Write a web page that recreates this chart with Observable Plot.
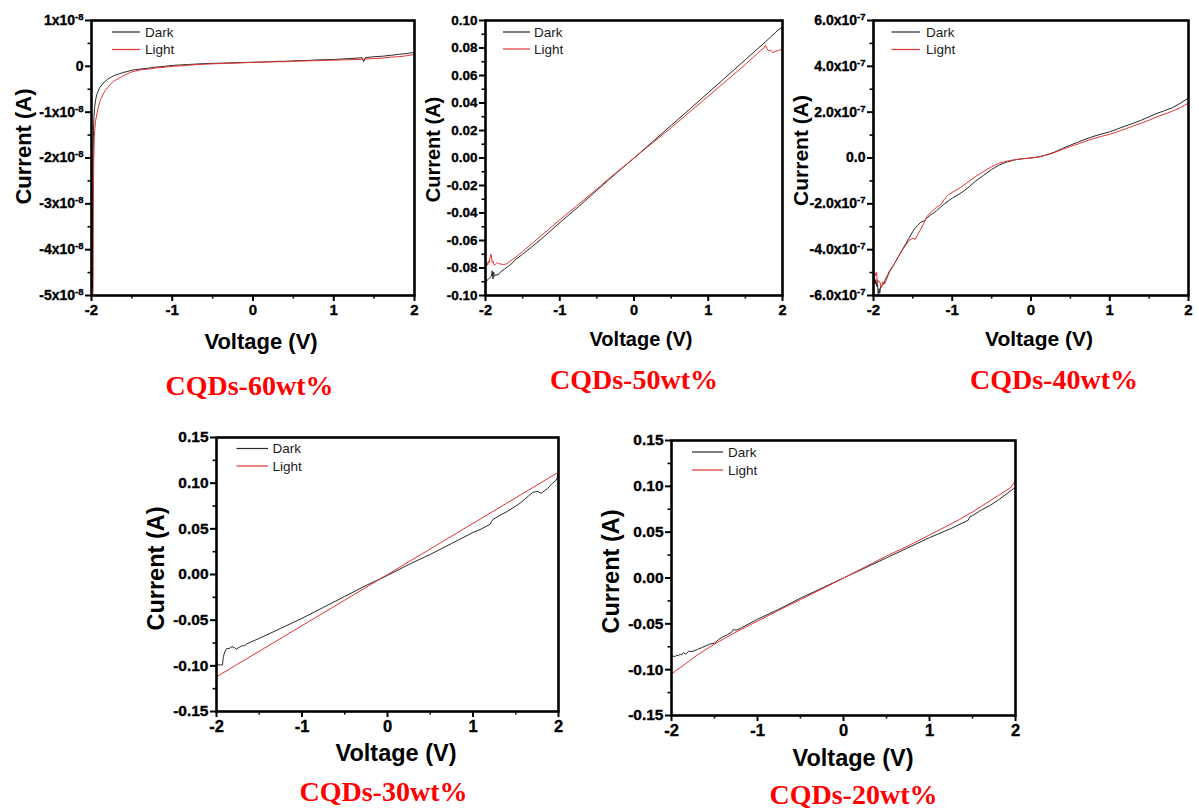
<!DOCTYPE html>
<html><head><meta charset="utf-8">
<script src="https://cdn.jsdelivr.net/npm/d3@7"></script>
<script src="https://cdn.jsdelivr.net/npm/@observablehq/plot@0.6"></script>
<style>
body{margin:0;background:#fff;}
#root{position:relative;width:1199px;height:811px;overflow:hidden;background:#fff;}
.panel{position:absolute;overflow:hidden;}
.panel svg{display:block;}
</style></head><body><div id="root"></div>
<script>
// ---------- DATA (voltage V, current) ----------
const seriesNames = ["Dark", "Light"];
const xMajorTicks = [-2, -1, 0, 1, 2];
const xMinorTicks = [-1.5, -0.5, 0.5, 1.5];

// CQDs-60wt% (current in units of 1e-8 A)
const scale60 = 1e-8;
const dark60 = [[-1.985,-4.85],[-1.983,-3.2],[-1.98,-2.0],[-1.976,-1.4],[-1.97,-1.1],[-1.962,-0.92],[-1.955,-0.8],[-1.945,-0.7],[-1.935,-0.62],[-1.92,-0.55],[-1.9,-0.47],[-1.87,-0.4],[-1.84,-0.34],[-1.8,-0.28],[-1.77,-0.25],[-1.73,-0.21],[-1.7,-0.19],[-1.65,-0.16],[-1.6,-0.13],[-1.55,-0.11],[-1.5,-0.085],[-1.45,-0.07],[-1.4,-0.06],[-1.35,-0.05],[-1.3,-0.04],[-1.25,-0.03],[-1.2,-0.015],[-1.15,-0.01],[-1.1,0.0],[-1.05,0.01],[-1.0,0.02],[-0.9,0.03],[-0.8,0.04],[-0.7,0.05],[-0.6,0.06],[-0.5,0.065],[-0.4,0.07],[-0.3,0.075],[-0.2,0.08],[-0.1,0.085],[0,0.09],[0.1,0.095],[0.2,0.1],[0.3,0.11],[0.4,0.11],[0.5,0.12],[0.6,0.125],[0.7,0.13],[0.8,0.14],[0.9,0.145],[1.0,0.15],[1.1,0.16],[1.2,0.17],[1.3,0.18],[1.35,0.19],[1.37,0.1],[1.39,0.19],[1.5,0.21],[1.6,0.22],[1.7,0.24],[1.8,0.26],[1.9,0.28],[1.95,0.29],[2.0,0.31]];
const light60 = [[-1.982,-4.95],[-1.98,-4.0],[-1.977,-3.0],[-1.974,-2.3],[-1.97,-1.85],[-1.965,-1.55],[-1.958,-1.35],[-1.95,-1.2],[-1.93,-1.0],[-1.91,-0.85],[-1.89,-0.74],[-1.86,-0.62],[-1.83,-0.53],[-1.8,-0.46],[-1.77,-0.4],[-1.73,-0.33],[-1.7,-0.3],[-1.65,-0.25],[-1.6,-0.2],[-1.55,-0.16],[-1.5,-0.12],[-1.45,-0.1],[-1.4,-0.08],[-1.35,-0.07],[-1.3,-0.06],[-1.25,-0.05],[-1.2,-0.035],[-1.15,-0.03],[-1.1,-0.02],[-1.05,-0.01],[-1.0,0.0],[-0.9,0.01],[-0.8,0.025],[-0.7,0.035],[-0.6,0.045],[-0.5,0.055],[-0.4,0.06],[-0.3,0.065],[-0.2,0.07],[-0.1,0.08],[0,0.085],[0.1,0.09],[0.2,0.095],[0.3,0.1],[0.4,0.1],[0.5,0.11],[0.6,0.115],[0.7,0.12],[0.8,0.125],[0.9,0.13],[1.0,0.135],[1.1,0.14],[1.2,0.145],[1.3,0.15],[1.4,0.16],[1.5,0.17],[1.6,0.18],[1.7,0.2],[1.8,0.21],[1.9,0.23],[2.0,0.26]];
const yTicks60 = [-5, -4, -3, -2, -1, 0, 1];
const yMinor60 = [-4.5, -3.5, -2.5, -1.5, -0.5, 0.5];

// CQDs-50wt% (A)
const dark50 = [[-2.0,-0.091],[-1.98,-0.089],[-1.96,-0.088],[-1.94,-0.087],[-1.92,-0.086],[-1.91,-0.082],[-1.9,-0.088],[-1.89,-0.083],[-1.88,-0.086],[-1.86,-0.085],[-1.83,-0.085],[-1.8,-0.083],[-1.75,-0.081],[-1.7,-0.079],[-1.65,-0.077],[-1.6,-0.074],[-1.5,-0.07],[-1.25,-0.059],[-1.0,-0.047],[-0.75,-0.0355],[-0.5,-0.0235],[-0.25,-0.0115],[0,0.0],[0.25,0.0118],[0.5,0.0237],[0.75,0.0355],[1.0,0.0475],[1.25,0.0595],[1.5,0.0715],[1.75,0.0835],[1.85,0.0885],[1.9,0.091],[1.95,0.0935],[1.98,0.0945],[2.0,0.0945]];
const light50 = [[-2.0,-0.085],[-1.99,-0.077],[-1.98,-0.076],[-1.97,-0.078],[-1.96,-0.075],[-1.95,-0.076],[-1.94,-0.073],[-1.93,-0.07],[-1.92,-0.071],[-1.91,-0.076],[-1.9,-0.075],[-1.88,-0.078],[-1.86,-0.077],[-1.84,-0.076],[-1.82,-0.077],[-1.8,-0.077],[-1.76,-0.0775],[-1.72,-0.077],[-1.68,-0.0755],[-1.64,-0.074],[-1.6,-0.0725],[-1.5,-0.068],[-1.25,-0.0565],[-1.0,-0.045],[-0.75,-0.0338],[-0.5,-0.0225],[-0.25,-0.011],[0,0.0],[0.25,0.011],[0.5,0.022],[0.75,0.0335],[1.0,0.045],[1.25,0.0565],[1.5,0.068],[1.7,0.078],[1.75,0.08],[1.77,0.082],[1.79,0.0795],[1.81,0.078],[1.84,0.0785],[1.87,0.0765],[1.9,0.0775],[1.93,0.078],[1.96,0.0785],[2.0,0.079]];
const yTicks50 = [-0.10, -0.08, -0.06, -0.04, -0.02, 0, 0.02, 0.04, 0.06, 0.08, 0.10];
const yMinor50 = [-0.09, -0.07, -0.05, -0.03, -0.01, 0.01, 0.03, 0.05, 0.07, 0.09];

// CQDs-40wt% (current in units of 1e-7 A)
const scale40 = 1e-7;
const dark40 = [[-2.0,-5.0],[-1.99,-5.3],[-1.98,-5.5],[-1.97,-5.3],[-1.96,-5.6],[-1.95,-5.4],[-1.94,-6.0],[-1.93,-5.7],[-1.92,-5.9],[-1.91,-5.6],[-1.89,-5.55],[-1.87,-5.5],[-1.85,-5.3],[-1.82,-5.1],[-1.8,-4.95],[-1.75,-4.7],[-1.7,-4.4],[-1.65,-4.1],[-1.6,-3.8],[-1.55,-3.5],[-1.5,-3.2],[-1.47,-3.05],[-1.44,-2.95],[-1.4,-2.8],[-1.36,-2.75],[-1.32,-2.62],[-1.28,-2.5],[-1.2,-2.3],[-1.1,-2.0],[-1.0,-1.75],[-0.9,-1.55],[-0.8,-1.3],[-0.7,-1.0],[-0.6,-0.75],[-0.5,-0.5],[-0.4,-0.3],[-0.3,-0.17],[-0.2,-0.08],[-0.1,-0.03],[0,0.0],[0.1,0.05],[0.2,0.14],[0.3,0.26],[0.4,0.42],[0.5,0.56],[0.6,0.7],[0.7,0.83],[0.8,0.95],[0.9,1.05],[1.0,1.14],[1.1,1.27],[1.2,1.4],[1.3,1.52],[1.4,1.65],[1.5,1.8],[1.6,1.95],[1.7,2.07],[1.8,2.2],[1.9,2.4],[2.0,2.62]];
const light40 = [[-2.0,-4.9],[-1.99,-5.05],[-1.98,-5.0],[-1.97,-5.15],[-1.96,-5.0],[-1.95,-5.5],[-1.94,-5.35],[-1.92,-5.4],[-1.9,-5.65],[-1.88,-5.4],[-1.86,-5.5],[-1.84,-5.35],[-1.8,-5.0],[-1.75,-4.7],[-1.7,-4.4],[-1.65,-4.1],[-1.6,-3.85],[-1.55,-3.6],[-1.5,-3.5],[-1.47,-3.55],[-1.44,-3.35],[-1.4,-3.1],[-1.36,-2.85],[-1.32,-2.55],[-1.28,-2.4],[-1.2,-2.15],[-1.15,-2.05],[-1.1,-1.8],[-1.05,-1.6],[-1.0,-1.5],[-0.9,-1.3],[-0.8,-1.05],[-0.7,-0.8],[-0.6,-0.58],[-0.5,-0.38],[-0.4,-0.22],[-0.3,-0.13],[-0.2,-0.07],[-0.1,-0.03],[0,0.0],[0.1,0.05],[0.2,0.13],[0.3,0.24],[0.4,0.38],[0.5,0.5],[0.6,0.62],[0.7,0.74],[0.8,0.85],[0.9,0.95],[1.0,1.03],[1.1,1.15],[1.2,1.27],[1.3,1.4],[1.4,1.52],[1.5,1.65],[1.6,1.8],[1.7,1.92],[1.8,2.05],[1.9,2.2],[2.0,2.4]];
const yTicks40 = [-6, -4, -2, 0, 2, 4, 6];
const yMinor40 = [-5, -3, -1, 1, 3, 5];

// CQDs-30wt% (A)
const dark30 = [[-2.0,-0.09],[-1.99,-0.099],[-1.96,-0.099],[-1.93,-0.099],[-1.92,-0.09],[-1.9,-0.084],[-1.88,-0.081],[-1.85,-0.081],[-1.82,-0.079],[-1.79,-0.08],[-1.77,-0.082],[-1.74,-0.08],[-1.7,-0.078],[-1.67,-0.078],[-1.65,-0.076],[-1.6,-0.074],[-1.5,-0.07],[-1.25,-0.059],[-1.0,-0.048],[-0.75,-0.036],[-0.5,-0.024],[-0.25,-0.012],[0,-0.001],[0.25,0.011],[0.5,0.022],[0.75,0.034],[1.0,0.046],[1.1,0.05],[1.2,0.055],[1.23,0.06],[1.3,0.064],[1.4,0.069],[1.5,0.075],[1.55,0.078],[1.6,0.082],[1.65,0.086],[1.7,0.09],[1.75,0.091],[1.8,0.089],[1.84,0.092],[1.87,0.094],[1.9,0.097],[1.93,0.1],[1.97,0.103],[1.99,0.107],[2.0,0.112]];
const light30 = [[-2.0,-0.112],[-1.0,-0.056],[0,0.0],[1.0,0.056],[2.0,0.112]];
const yTicks3020 = [-0.15, -0.10, -0.05, 0, 0.05, 0.10, 0.15];
const yMinor3020 = [-0.125, -0.075, -0.025, 0.025, 0.075, 0.125];

// CQDs-20wt% (A)
const dark20 = [[-2.0,-0.087],[-1.98,-0.085],[-1.96,-0.086],[-1.94,-0.084],[-1.92,-0.085],[-1.9,-0.083],[-1.88,-0.084],[-1.86,-0.081],[-1.84,-0.083],[-1.82,-0.082],[-1.8,-0.08],[-1.75,-0.08],[-1.7,-0.078],[-1.65,-0.076],[-1.6,-0.074],[-1.55,-0.072],[-1.5,-0.071],[-1.45,-0.067],[-1.4,-0.064],[-1.35,-0.062],[-1.3,-0.059],[-1.28,-0.056],[-1.25,-0.057],[-1.2,-0.055],[-1.1,-0.05],[-1.0,-0.045],[-0.75,-0.034],[-0.5,-0.022],[-0.25,-0.011],[0,0.0],[0.25,0.011],[0.5,0.022],[0.75,0.033],[1.0,0.044],[1.25,0.054],[1.45,0.063],[1.47,0.067],[1.5,0.068],[1.6,0.074],[1.7,0.079],[1.8,0.085],[1.9,0.092],[2.0,0.099]];
const light20 = [[-2.0,-0.105],[-1.95,-0.101],[-1.9,-0.098],[-1.8,-0.091],[-1.7,-0.084],[-1.6,-0.078],[-1.5,-0.072],[-1.25,-0.059],[-1.0,-0.047],[-0.75,-0.035],[-0.5,-0.0235],[-0.25,-0.012],[0,0.0],[0.25,0.012],[0.5,0.024],[0.75,0.035],[1.0,0.047],[1.25,0.059],[1.35,0.064],[1.5,0.072],[1.6,0.078],[1.7,0.084],[1.8,0.09],[1.9,0.096],[1.95,0.099],[1.98,0.104],[2.0,0.105]];

const captions = ["CQDs-60wt%", "CQDs-50wt%", "CQDs-40wt%", "CQDs-30wt%", "CQDs-20wt%"];
const xLabel = "Voltage (V)";
const yLabel = "Current (A)";

// ---------- RENDER ----------
const DARK = "#2a2a2a", LIGHT = "#e23434";
const sansFont = "'Liberation Sans', Arial, Helvetica, sans-serif";
const serifFont = "'Liberation Serif', 'Times New Roman', serif";
const fmtX = d => (d < 0 ? "-" : "") + Math.abs(d);
const fmt2 = d => (d < 0 ? "-" : "") + Math.abs(d).toFixed(2);
const fmtExp8 = d => d === 0 ? "0" : (d < 0 ? "-" : "") + Math.abs(d) + "x10^-8";
const fmtExp7 = d => d === 0 ? "0.0" : (d < 0 ? "-" : "") + Math.abs(d).toFixed(1) + "x10^-7";
const toRows = arr => arr.map(([v, i]) => ({v, i}));

const panels = [
  {box:[0,0,420,410], m:[20,6,115,91], dark:dark60, light:light60, yDomain:[-5,1], yTicks:yTicks60, yMinor:yMinor60, fmt:fmtExp8,
   tick:14, xtick:15, lab:22, xl:[8,53], yl:[-68,-11.5], cap:[-3.5,99], leg:[21,49,54,12,29.5]},
  {box:[420,0,370,410], m:[20,8,115,65], dark:dark50, light:light50, yDomain:[-0.1,0.1], yTicks:yTicks50, yMinor:yMinor50, fmt:fmt2,
   tick:13.5, xtick:14.5, lab:20, xl:[7,50], yl:[-52,-8.5], cap:[0,93], leg:[18,45,49,12,29]},
  {box:[790,0,409,410], m:[20,11,115,83], dark:dark40, light:light40, yDomain:[-6,6], yTicks:yTicks40, yMinor:yMinor40, fmt:fmtExp7,
   tick:14, xtick:15, lab:21, xl:[8,50], yl:[-72,-7.5], cap:[23,93], leg:[18.5,47,53,12,29.5]},
  {box:[120,420,460,391], m:[17,22,100,96], dark:dark30, light:light30, yDomain:[-0.15,0.15], yTicks:yTicks3020, yMinor:yMinor3020, fmt:fmt2,
   tick:15.5, xtick:16.5, lab:23.5, xl:[8.5,49], yl:[-60,-6], cap:[-4,89], leg:[20.5,52,56.5,11.5,29]},
  {box:[580,420,460,391], m:[20,25,96,91], dark:dark20, light:light20, yDomain:[-0.15,0.15], yTicks:yTicks3020, yMinor:yMinor3020, fmt:fmt2,
   tick:15.5, xtick:16.5, lab:23.5, xl:[9.5,50], yl:[-60,-6.5], cap:[10,88], leg:[21,52,57,12,30]}
];

const root = document.getElementById("root");
panels.forEach((p, k) => {
  const [left, top, width, height] = p.box;
  const [mt, mr, mb, ml] = p.m;
  const svg = Plot.plot({
    width, height, marginTop: mt, marginRight: mr, marginBottom: mb, marginLeft: ml,
    style: {fontFamily: sansFont, background: "transparent", color: "black"},
    x: {domain: [-2, 2]},
    y: {domain: p.yDomain},
    marks: [
      Plot.axisX({ticks: xMinorTicks, tickSize: 3.5, strokeWidth: 1.6, text: null, label: null}),
      Plot.axisX({ticks: xMajorTicks, tickSize: 6, tickPadding: 3, strokeWidth: 2, tickFormat: fmtX, fontSize: p.xtick, fontWeight: "bold", label: null}),
      Plot.axisY({ticks: p.yMinor, tickSize: 3.5, strokeWidth: 1.6, text: null, label: null}),
      Plot.axisY({ticks: p.yTicks, tickSize: 6, tickPadding: 2, strokeWidth: 2, tickFormat: p.fmt, fontSize: p.tick, fontWeight: "bold", label: null}),
      Plot.line(toRows(p.dark), {x: "v", y: "i", stroke: DARK, strokeWidth: 1, clip: true}),
      Plot.line(toRows(p.light), {x: "v", y: "i", stroke: LIGHT, strokeWidth: 1, clip: true}),
      Plot.frame({stroke: "black", strokeWidth: 2.6}),
      Plot.text([xLabel], {frameAnchor: "bottom", text: d => d, dx: p.xl[0], dy: p.xl[1], textAnchor: "middle", lineAnchor: "bottom", fontSize: p.lab, fontWeight: "bold", fill: "black"}),
      Plot.text([yLabel], {frameAnchor: "left", text: d => d, rotate: -90, dx: p.yl[0], dy: p.yl[1], textAnchor: "middle", lineAnchor: "middle", fontSize: p.lab, fontWeight: "bold", fill: "black"}),
      Plot.text([captions[k]], {frameAnchor: "bottom", text: d => d, dx: p.cap[0], dy: p.cap[1], textAnchor: "middle", lineAnchor: "bottom", fontSize: 28, fontWeight: "bold", fontFamily: serifFont, fill: "#ff0000"})
    ]
  });
  // all chart texts bold (Origin style); tick labels slightly heavier
  svg.querySelectorAll("text").forEach(t => {
    t.style.fontWeight = "bold";
    const parent = t.parentNode;
    const lab = parent && parent.getAttribute && parent.getAttribute("aria-label");
    if (lab && lab.indexOf("tick") >= 0) {
      t.style.stroke = "black"; t.style.strokeWidth = "0.35px"; t.style.paintOrder = "stroke";
    }
  });
  // superscript exponents in tick labels
  const ns = "http://www.w3.org/2000/svg";
  svg.querySelectorAll("text").forEach(t => {
    const s = t.textContent;
    const j = s.indexOf("^");
    if (j < 0) return;
    t.textContent = "";
    const a = document.createElementNS(ns, "tspan"); a.textContent = s.slice(0, j);
    const b = document.createElementNS(ns, "tspan"); b.textContent = s.slice(j + 1);
    b.setAttribute("dy", "-5"); b.style.fontSize = "9.5px";
    t.append(a, b);
  });
  // legend (inside frame, top-left)
  const [l0, l1, tx, r0, r1] = p.leg;
  const g = d3.select(svg).append("g").attr("font-family", sansFont).attr("font-size", 13.5)
    .attr("font-weight", "normal").attr("text-anchor", "start");
  [[seriesNames[0], DARK, r0], [seriesNames[1], LIGHT, r1]].forEach(([name, col, r]) => {
    g.append("line").attr("x1", ml + l0).attr("x2", ml + l1).attr("y1", mt + r).attr("y2", mt + r)
      .attr("stroke", col).attr("stroke-width", 1.2);
    g.append("text").attr("x", ml + tx).attr("y", mt + r).attr("dy", "0.35em").attr("fill", "#1a1a1a").text(name);
  });
  const div = document.createElement("div");
  div.className = "panel";
  div.style.left = left + "px"; div.style.top = top + "px";
  div.style.width = width + "px"; div.style.height = height + "px";
  div.appendChild(svg);
  root.appendChild(div);
});
</script>
</body></html>
